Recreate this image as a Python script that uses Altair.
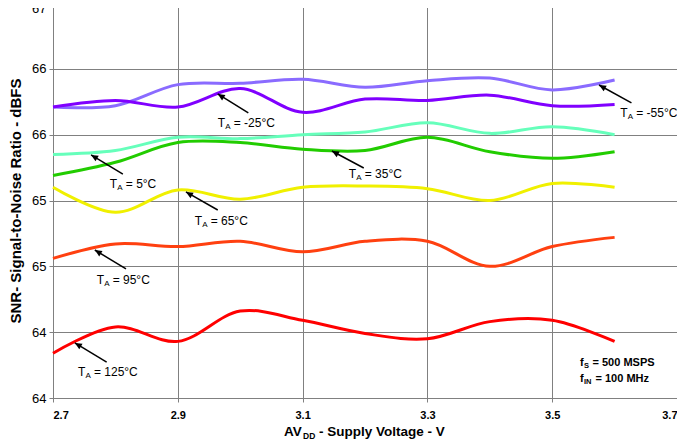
import math
import altair as alt
import pandas as pd

# ---- data ----
voltage = [2.7, 2.8, 2.9, 3.0, 3.1, 3.2, 3.3, 3.4, 3.5, 3.6]
series_names = ["-55°C", "-25°C", "5°C", "35°C", "65°C", "95°C", "125°C"]
snr_m55 = [66.21, 66.22, 66.38, 66.39, 66.42, 66.36, 66.41, 66.43, 66.34, 66.415]
snr_m25 = [66.21, 66.26, 66.21, 66.35, 66.17, 66.27, 66.26, 66.30, 66.22, 66.23]
snr_5 = [65.85, 65.88, 65.98, 65.97, 66.00, 66.02, 66.09, 66.01, 66.06, 66.00]
snr_35 = [65.69, 65.79, 65.94, 65.94, 65.89, 65.88, 65.98, 65.87, 65.82, 65.87]
snr_65 = [65.60, 65.41, 65.58, 65.51, 65.60, 65.61, 65.59, 65.50, 65.63, 65.60]
snr_95 = [65.06, 65.17, 65.15, 65.19, 65.11, 65.19, 65.19, 65.00, 65.15, 65.22]
snr_125 = [64.34, 64.54, 64.43, 64.66, 64.59, 64.49, 64.45, 64.58, 64.59, 64.43]
series_values = [snr_m55, snr_m25, snr_5, snr_35, snr_65, snr_95, snr_125]
series_colors = ["#8A6BFF", "#8000FF", "#66FFBB", "#22CC00", "#F0F000", "#FF4010", "#FF0000"]

x_ticks = [2.7, 2.9, 3.1, 3.3, 3.5, 3.7]
y_ticks = [64, 64.5, 65, 65.5, 66, 66.5, 67]

# annotation labels (data coordinates)
ann_text_v = [3.609, 2.964, 2.791, 3.174, 2.927, 2.770, 2.740]
ann_text_snr = [66.165, 66.089, 65.625, 65.701, 65.344, 64.896, 64.198]
arrow_tail_v = [3.627, 3.013, 2.812, 3.198, 2.964, 2.817, 2.786]
arrow_tail_snr = [66.241, 66.165, 65.701, 65.747, 65.428, 64.980, 64.273]
arrow_head_v = [3.575, 2.964, 2.761, 3.147, 2.913, 2.767, 2.735]
arrow_head_snr = [66.377, 66.309, 65.846, 65.876, 65.565, 65.124, 64.418]

W, H = 624, 395
FONT = "Liberation Sans"

rows = []
for name, vals in zip(series_names, series_values):
    for v, s in zip(voltage, vals):
        rows.append({"v": v, "snr": s, "series": name})
lines_df = pd.DataFrame(rows)

px_per_v = W / 1.0
px_per_db = H / 3.0
angles = []
for tx, ty, hx, hy in zip(arrow_tail_v, arrow_tail_snr, arrow_head_v, arrow_head_snr):
    dx = (hx - tx) * px_per_v
    dy = -(hy - ty) * px_per_db
    angles.append(math.degrees(math.atan2(dx, -dy)) % 360)

arrow_df = pd.DataFrame({
    "v": arrow_tail_v, "snr": arrow_tail_snr,
    "v2": arrow_head_v, "snr2": arrow_head_snr,
})
head_df = pd.DataFrame({"v": arrow_head_v, "snr": arrow_head_snr, "angle": angles})
label_df = pd.DataFrame({
    "v": ann_text_v, "snr": ann_text_snr,
    "rest": ["= " + s for s in series_names],
})

xscale = alt.Scale(domain=[2.7, 3.7], nice=False, zero=False)
yscale = alt.Scale(domain=[64, 67], nice=False, zero=False)

x_axis = alt.Axis(values=x_ticks, format=".1f", title=None, grid=True,
                  labelFontWeight="bold", labelFontSize=11, labelPadding=7,
                  tickSize=4)
y_axis = alt.Axis(values=y_ticks, labelExpr="floor(datum.value)",
                  title="SNR- Signal-to-Noise Ratio - dBFS", grid=True,
                  labelFontSize=13, labelPadding=3, tickSize=4,
                  labelOffset={"condition": {"test": "datum.value >= 67", "value": 5}, "value": 0},
                  titleFontSize=15, titleFontWeight="bold", titlePadding=8)

X = alt.X("v:Q", scale=xscale, axis=x_axis)
Y = alt.Y("snr:Q", scale=yscale, axis=y_axis)

lines = alt.Chart(lines_df).mark_line(strokeWidth=3, interpolate="catmull-rom").encode(
    x=X, y=Y,
    color=alt.Color("series:N", scale=alt.Scale(domain=series_names, range=series_colors), legend=None),
    order=alt.Order("v:Q"),
)

rules = alt.Chart(arrow_df).mark_rule(color="black", strokeWidth=1.5).encode(
    x=X, y=Y, x2="v2:Q", y2="snr2:Q"
)

heads = alt.Chart(head_df).mark_point(
    shape="M0,0 L-0.45,1 L0.45,1 Z", filled=True, color="black", size=200, opacity=1
).encode(x=X, y=Y, angle=alt.Angle("angle:Q", scale=None))

t_main = alt.Chart(label_df).mark_text(align="left", baseline="middle", fontSize=12, font=FONT, text="T").encode(x=X, y=Y)
t_sub = alt.Chart(label_df).mark_text(align="left", baseline="middle", fontSize=8, font=FONT, text="A", dx=7.5, dy=4).encode(x=X, y=Y)
t_rest = alt.Chart(label_df).mark_text(align="left", baseline="middle", fontSize=12, font=FONT, dx=16).encode(x=X, y=Y, text="rest:N")

one = pd.DataFrame({"k": [0]})

def ptext(txt, px, py, size, dx=0, dy=0):
    return alt.Chart(one).mark_text(
        text=txt, align="left", baseline="middle", fontSize=size, fontWeight="bold",
        font=FONT, color="black", dx=dx, dy=dy
    ).encode(x=alt.value(px), y=alt.value(py))

xt = [
    ptext("AV", 231, 429, 13.5),
    ptext("DD", 231, 429, 8.5, dx=19, dy=3.5),
    ptext("- Supply Voltage - V", 231, 429, 13.5, dx=35),
]
fs = [
    ptext("f", 527, 360, 11),
    ptext("S", 527, 360, 7.5, dx=4, dy=3),
    ptext("= 500 MSPS", 527, 360, 11, dx=12.5),
    ptext("f", 527, 376, 11),
    ptext("IN", 527, 376, 7.5, dx=4, dy=3),
    ptext("= 100 MHz", 527, 376, 11, dx=15.5),
]

chart = alt.layer(lines, rules, heads, t_main, t_sub, t_rest, *xt, *fs).properties(
    width=W, height=H,
    autosize=alt.AutoSizeParams(type="none"),
    padding={"left": 45, "top": -5, "right": 0, "bottom": 42},
).configure_view(stroke="#808080", strokeWidth=1).configure_axis(
    labelFont=FONT, titleFont=FONT, labelColor="black", titleColor="black",
    gridColor="#808080", gridWidth=1, gridOpacity=1,
    domainColor="#808080", tickColor="#808080",
)

chart.save("out.html", embed_options={"renderer": "svg", "actions": False})
